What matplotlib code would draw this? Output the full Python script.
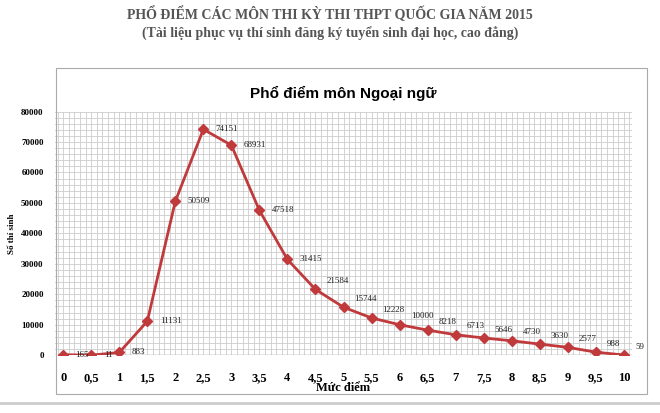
import matplotlib
matplotlib.use("Agg")
import matplotlib.pyplot as plt
from matplotlib.patches import Rectangle
from matplotlib.lines import Line2D
import numpy as np

x_vals = [0, 0.5, 1, 1.5, 2, 2.5, 3, 3.5, 4, 4.5, 5, 5.5, 6, 6.5, 7, 7.5, 8, 8.5, 9, 9.5, 10]
counts = [165, 11, 883, 11131, 50509, 74151, 68931, 47518, 31415, 21584, 15744, 12228,
          10000, 8218, 6713, 5646, 4730, 3630, 2577, 988, 59]
x_labels = ["0", "0,5", "1", "1,5", "2", "2,5", "3", "3,5", "4", "4,5", "5", "5,5", "6",
            "6,5", "7", "7,5", "8", "8,5", "9", "9,5", "10"]

fig = plt.figure(figsize=(6.6, 4.13), dpi=100)
fig.patch.set_facecolor("white")
fig.text(0.5, 0.965, "PHỔ ĐIỂM CÁC MÔN THI KỲ THI THPT QUỐC GIA NĂM 2015", ha="center", va="center",
         fontfamily="Liberation Serif", fontweight="bold", fontsize=10, color="#555555")
fig.text(0.5, 0.918, "(Tài liệu phục vụ thí sinh đăng ký tuyển sinh đại học, cao đẳng)", ha="center", va="center",
         fontfamily="Liberation Serif", fontweight="bold", fontsize=10, color="#555555")
fig.patches.append(Rectangle((0.085, 0.045), 0.895, 0.79, transform=fig.transFigure,
                             fill=False, edgecolor="#aaaaaa", lw=0.8))
fig.lines.append(Line2D([0, 1], [0.025, 0.025], transform=fig.transFigure, color="#cccccc", lw=2))

ax = fig.add_axes([0.083, 0.14, 0.875, 0.59])
ax.plot(x_vals, counts, color="#c0393b", lw=2, marker="D", markersize=5.5, zorder=3)
for i, (xv, c) in enumerate(zip(x_vals, counts)):
    off = (9, 0) if i < 9 else (8, 6)
    ax.annotate(str(c), (xv, c), xytext=off, textcoords="offset points", fontsize=6.5,
                fontfamily="Liberation Serif", va="center", ha="left", color="#222222")
ax.set_xlim(-0.15, 10.15)
ax.set_ylim(0, 80000)
ax.set_xticks(x_vals)
ax.set_xticklabels(x_labels, fontfamily="Liberation Serif", fontweight="bold", fontsize=9)
ax.set_yticks(np.arange(0, 80001, 10000))
ax.set_yticklabels([str(v) for v in range(0, 80001, 10000)], fontfamily="Liberation Serif",
                   fontweight="bold", fontsize=6.5)
ax.set_yticks(np.arange(0, 80001, 2000), minor=True)
ax.set_xticks(np.arange(-0.1, 10.11, 0.1), minor=True)
ax.grid(which="both", color="#cccccc", lw=0.6)
ax.tick_params(length=0, which="both", pad=8)
ax.tick_params(axis="x", pad=12)
for s in ax.spines.values():
    s.set_visible(False)
ax.axhline(0, color="#888888", lw=1)
ax.set_xlabel("Mức điểm", fontfamily="Liberation Serif", fontweight="bold", fontsize=9, labelpad=-1)
ax.set_ylabel("Số thí sinh", fontfamily="Liberation Serif", fontweight="bold", fontsize=6.5)
ax.set_title("Phổ điểm môn Ngoại ngữ", fontfamily="Liberation Sans", fontweight="bold", fontsize=11, pad=10)
fig.savefig("out.png", dpi=100)
